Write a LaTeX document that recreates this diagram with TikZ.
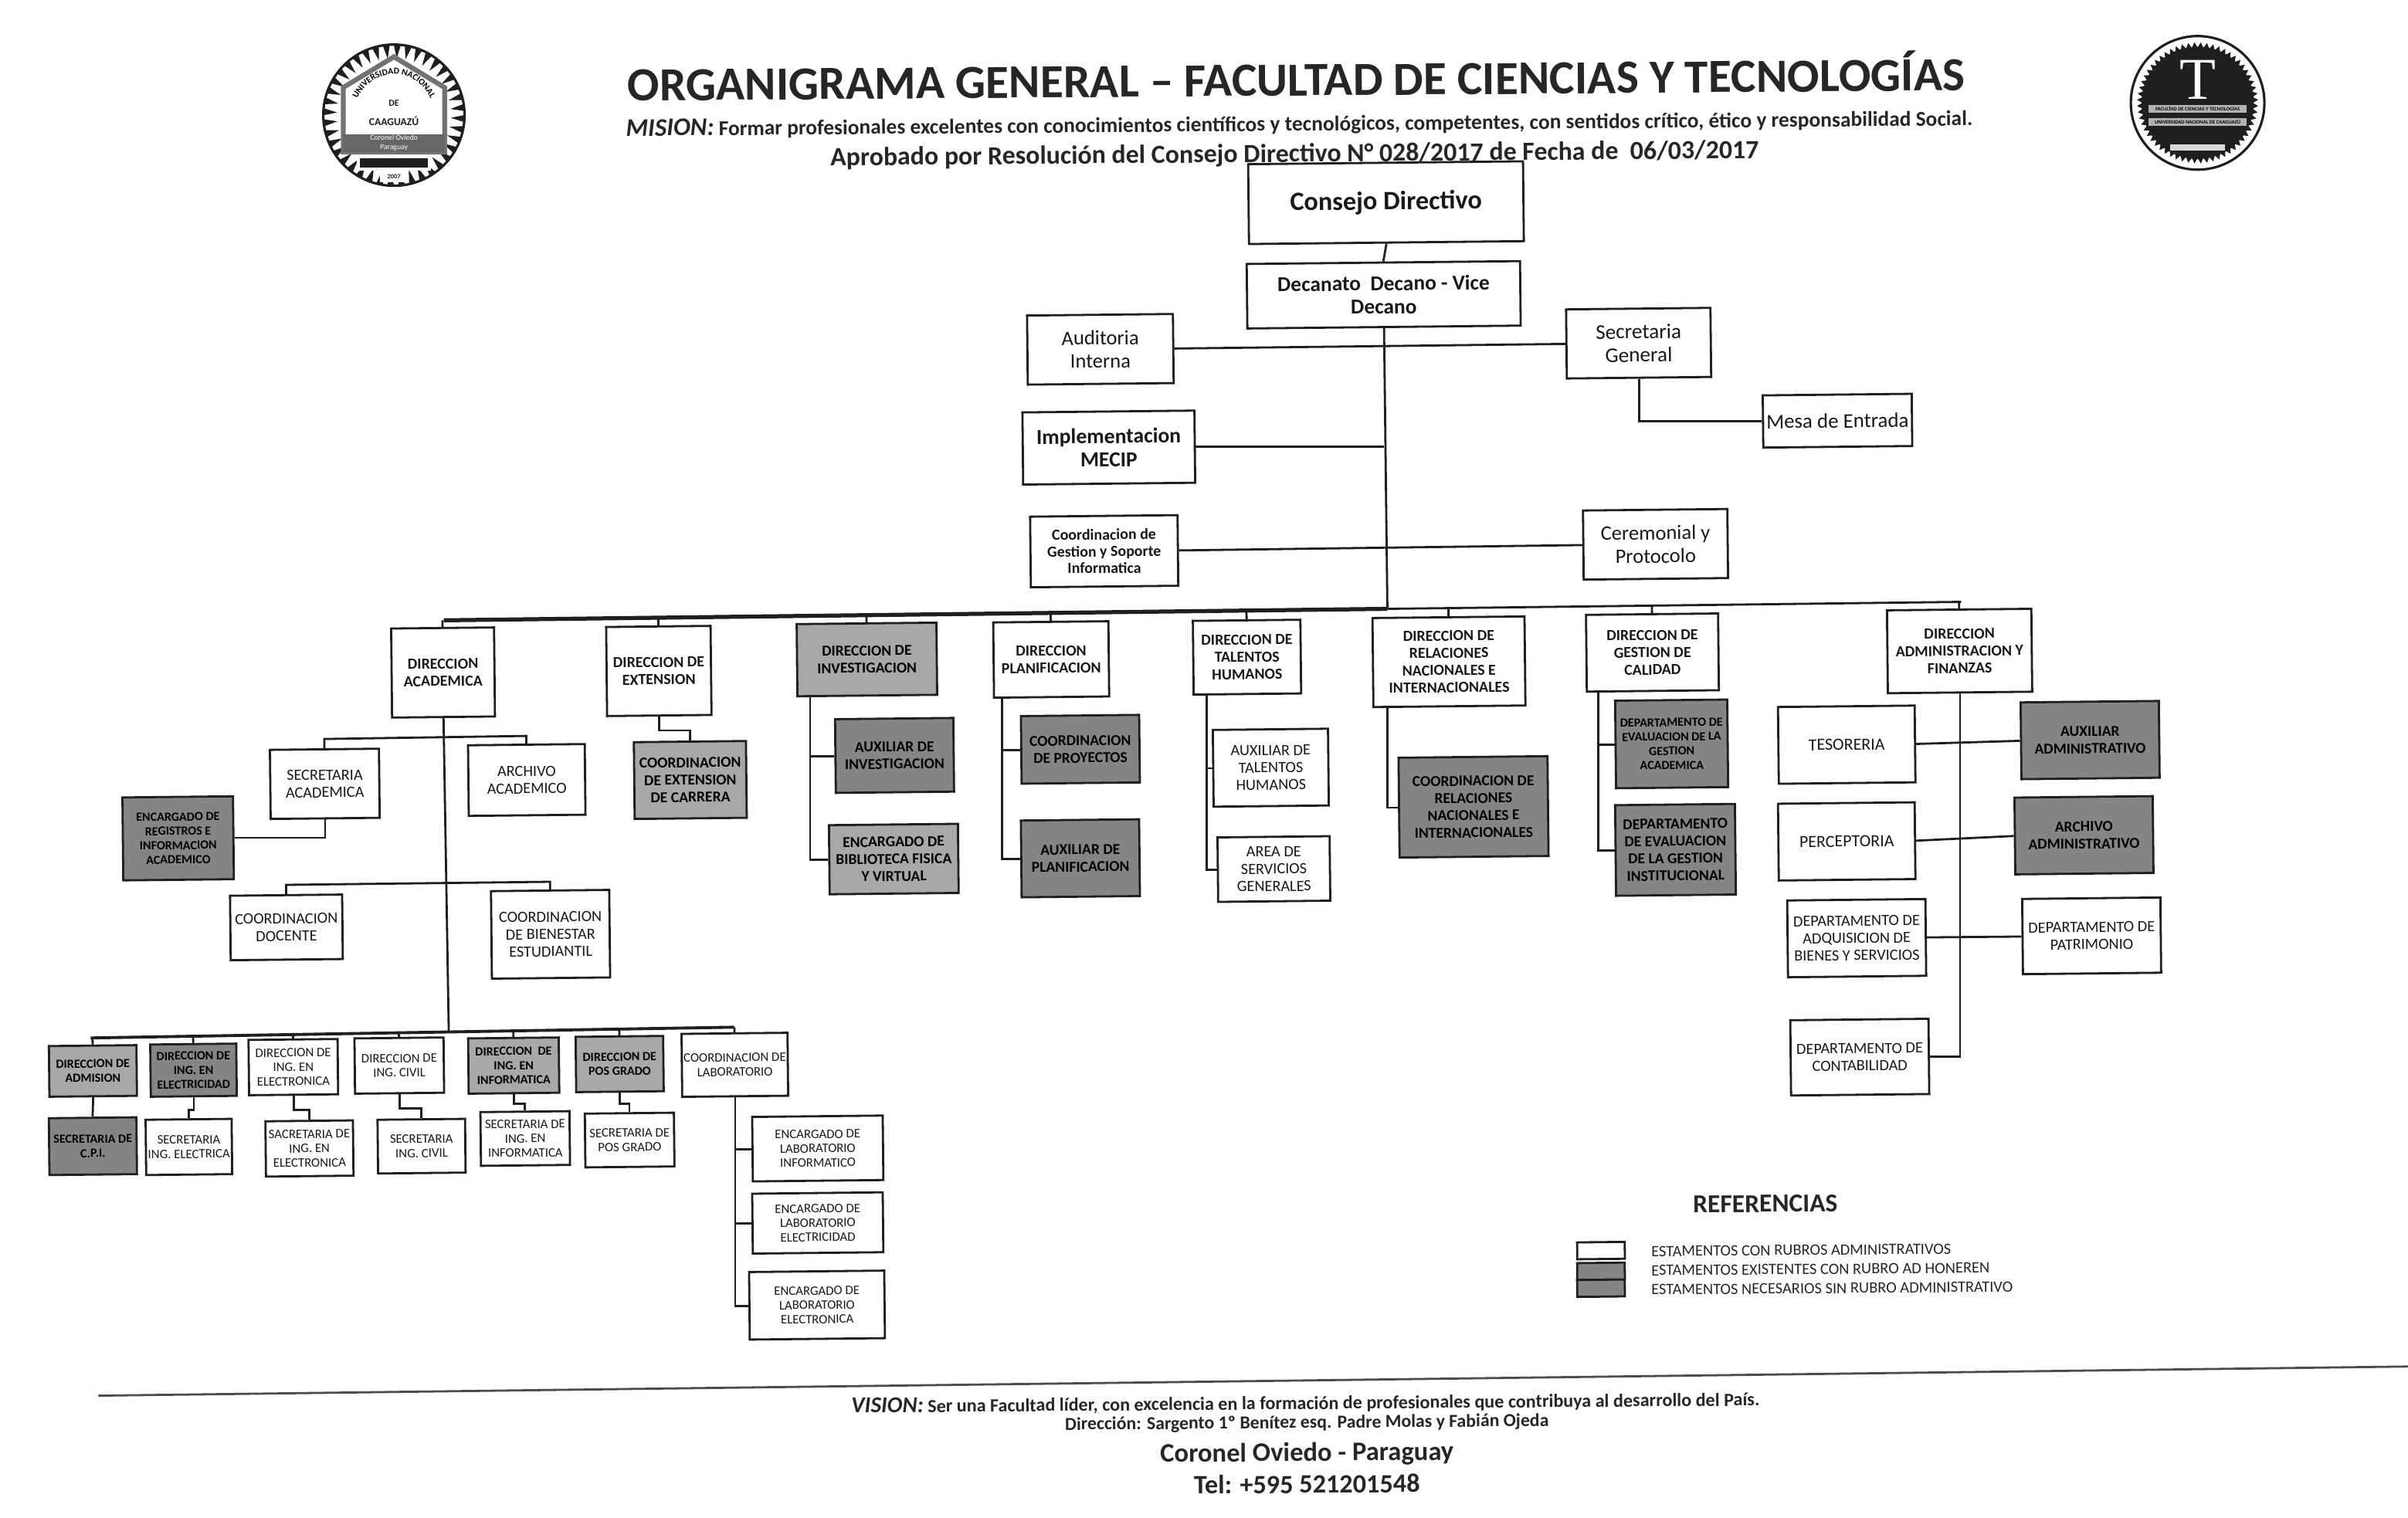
\documentclass[tikz,border=0pt]{standalone}
\usepackage{fontspec}
\setmainfont{Carlito}
\newfontfamily\sealfont{Liberation Serif}
\usetikzlibrary{calc}
\usetikzlibrary{decorations.text}
\definecolor{inkline}{gray}{0.12}
\definecolor{fillD}{gray}{0.52}
\definecolor{fillL}{gray}{0.66}
\def\Tilt{0.6}
\def\BoxFont{\fontsize{5.8pt}{6.4pt}\selectfont}
\def\SmallFont{\fontsize{4.8pt}{5.3pt}\selectfont}
\tikzset{
	wd/.style={minimum width=#1*0.2mm},
	ht/.style={minimum height=#1*0.2mm},
	orgbox/.style={draw=inkline,line width=0.8pt,fill=white,inner sep=0pt,align=center,rotate=\Tilt,text=black!90,font=\BoxFont},
	darkbox/.style={orgbox,fill=fillD,text=black,font=\fontsize{5.6pt}{6.4pt}\selectfont\bfseries},
	lightbox/.style={orgbox,fill=fillL,text=black,font=\fontsize{5.6pt}{6.4pt}\selectfont\bfseries},
	heavy/.style={font=\fontsize{5.7pt}{6.4pt}\selectfont\bfseries},
	tinytext/.style={font=\SmallFont},
	tinyheavy/.style={font=\fontsize{4.6pt}{5.3pt}\selectfont\bfseries},
	conn/.style={draw=inkline,line width=0.8pt},
	headtext/.style={text=black!85,inner sep=0pt,rotate=0.45},
}
\begin{document}
\begin{tikzpicture}[x=0.2mm,y=-0.2mm]
	\useasboundingbox (0,0) rectangle (1568,988.2);

	% heading
	\node[headtext,font=\fontsize{17.6pt}{19pt}\selectfont\bfseries] (title) at (844,49.5) {ORGANIGRAMA GENERAL -- FACULTAD DE CIENCIAS Y TECNOLOGÍAS};
	\node[headtext,font=\fontsize{7.85pt}{9pt}\selectfont\bfseries] (mision) at (846,81) {{\fontsize{9.4pt}{9pt}\selectfont\itshape MISION:} Formar profesionales excelentes con conocimientos científicos y tecnológicos, competentes, con sentidos crítico, ético y responsabilidad Social.};
	\node[headtext,font=\fontsize{9.7pt}{11pt}\selectfont\bfseries] (aprobado) at (843,101) {Aprobado por Resolución del Consejo Directivo N° 028/2017 de Fecha de\ \ 06/03/2017};

	% top of the chart
	\node[orgbox,wd=179,ht=52,font=\fontsize{9.8pt}{11pt}\selectfont\bfseries] (consejo) at (902.5,132) {Consejo Directivo};
	\node[orgbox,wd=178,ht=42,font=\fontsize{7.85pt}{8.6pt}\selectfont\bfseries] (decanato) at (901,192) {Decanato\ \ Decano - Vice\\Decano};
	\node[orgbox,wd=95,ht=45,font=\fontsize{7.6pt}{8.6pt}\selectfont] (auditoria) at (716.5,227.5) {Auditoria\\Interna};
	\node[orgbox,wd=94,ht=45,font=\fontsize{7.8pt}{8.6pt}\selectfont] (secgen) at (1067,223.5) {Secretaria\\General};
	\node[orgbox,wd=97,ht=34,font=\fontsize{7.7pt}{8.6pt}\selectfont] (mesa) at (1196.5,274) {Mesa de Entrada};
	\node[orgbox,wd=112,ht=47,font=\fontsize{7.9pt}{8.6pt}\selectfont\bfseries] (mecip) at (722,291.5) {Implementacion\\MECIP};
	\node[orgbox,wd=96,ht=46,font=\fontsize{5.7pt}{6.2pt}\selectfont\bfseries] (coordges) at (719,359) {Coordinacion de\\Gestion y Soporte\\Informatica};
	\node[orgbox,wd=94,ht=45,font=\fontsize{7.6pt}{8.6pt}\selectfont] (ceremonial) at (1078,354.5) {Ceremonial y\\Protocolo};

	% direcciones
	\node[orgbox,wd=67,ht=58,heavy] (dacad) at (288.5,438) {DIRECCION\\ACADEMICA};
	\node[orgbox,wd=68,ht=58,heavy] (dext) at (429,437) {DIRECCION DE\\EXTENSION};
	\node[lightbox,wd=91,ht=47] (dinv) at (564.5,429.5) {DIRECCION DE\\INVESTIGACION};
	\node[orgbox,wd=75,ht=49,heavy] (dplan) at (684.5,429.5) {DIRECCION\\PLANIFICACION};
	\node[orgbox,wd=70,ht=48,heavy] (dtal) at (812,428) {DIRECCION DE\\TALENTOS\\HUMANOS};
	\node[orgbox,wd=99,ht=58,heavy] (drel) at (943.5,431) {DIRECCION DE\\RELACIONES\\NACIONALES E\\INTERNACIONALES};
	\node[orgbox,wd=86,ht=50,heavy] (dcal) at (1076,425) {DIRECCION DE\\GESTION DE\\CALIDAD};
	\node[orgbox,wd=94,ht=54,heavy] (dadm) at (1276,424) {DIRECCION\\ADMINISTRACION Y\\FINANZAS};

	% academica
	\node[orgbox,wd=71,ht=45] (secac) at (211.5,510.5) {SECRETARIA\\ACADEMICA};
	\node[orgbox,wd=76,ht=46] (archac) at (343,508) {ARCHIVO\\ACADEMICO};
	\node[darkbox,wd=72,ht=54,tinyheavy] (encreg) at (116,546) {ENCARGADO DE\\REGISTROS E\\INFORMACION\\ACADEMICO};
	\node[orgbox,wd=73,ht=42] (coorddoc) at (186.5,604) {COORDINACION\\DOCENTE};
	\node[orgbox,wd=77,ht=57] (coordbien) at (358.5,608.5) {COORDINACION\\DE BIENESTAR\\ESTUDIANTIL};
	\node[lightbox,wd=57,ht=33,tinyheavy] (dadmis) at (60.5,697.5) {DIRECCION DE\\ADMISION};
	\node[darkbox,wd=56,ht=34,tinyheavy] (delec) at (126,697) {DIRECCION DE\\ING. EN\\ELECTRICIDAD};
	\node[orgbox,wd=58,ht=36,tinytext] (delectron) at (191,695) {DIRECCION DE\\ING. EN\\ELECTRONICA};
	\node[orgbox,wd=58,ht=36,tinytext] (dcivil) at (260,694) {DIRECCION DE\\ING. CIVIL};
	\node[lightbox,wd=59,ht=36,tinyheavy] (dinfo) at (334.5,694) {DIRECCION\ \ DE\\ING. EN\\INFORMATICA};
	\node[lightbox,wd=57,ht=36,tinyheavy] (dpos) at (403.5,693) {DIRECCION DE\\POS GRADO};
	\node[orgbox,wd=69,ht=41,tinytext] (coordlab) at (478.5,693.5) {COORDINACION DE\\LABORATORIO};
	\node[darkbox,wd=57,ht=37,tinyheavy] (seccpi) at (60.5,746.5) {SECRETARIA DE\\C.P.I.};
	\node[orgbox,wd=56,ht=36,tinytext] (secelec) at (123,747) {SECRETARIA\\ING. ELECTRICA};
	\node[orgbox,wd=57,ht=36,tinytext] (secelectron) at (201.5,748) {SACRETARIA DE\\ING. EN\\ELECTRONICA};
	\node[orgbox,wd=57,ht=35,tinytext] (seccivil) at (274.5,746.5) {SECRETARIA\\ING. CIVIL};
	\node[orgbox,wd=58,ht=35,tinytext] (secinfo) at (342,741.5) {SECRETARIA DE\\ING. EN\\INFORMATICA};
	\node[orgbox,wd=58,ht=35,tinytext] (secpos) at (410,742.5) {SECRETARIA DE\\POS GRADO};
	\node[orgbox,wd=85,ht=42,tinytext] (enclabinf) at (532.5,748) {ENCARGADO DE\\LABORATORIO\\INFORMATICO};
	\node[orgbox,wd=85,ht=39,tinytext] (enclabelec) at (532.5,796.5) {ENCARGADO DE\\LABORATORIO\\ELECTRICIDAD};
	\node[orgbox,wd=88,ht=44,tinytext] (enclabeln) at (532,850) {ENCARGADO DE\\LABORATORIO\\ELECTRONICA};

	% extension, investigacion, planificacion
	\node[lightbox,wd=73,ht=50] (coordext) at (449.5,508) {COORDINACION\\DE EXTENSION\\DE CARRERA};
	\node[darkbox,wd=77,ht=48] (auxinv) at (582.5,492) {AUXILIAR DE\\INVESTIGACION};
	\node[lightbox,wd=84,ht=45] (encbib) at (582,559.5) {ENCARGADO DE\\BIBLIOTECA FISICA\\Y VIRTUAL};
	\node[darkbox,wd=77,ht=44] (coordpro) at (703.5,488) {COORDINACION\\DE PROYECTOS};
	\node[darkbox,wd=77,ht=50] (auxplan) at (703.5,559) {AUXILIAR DE\\PLANIFICACION};

	% talentos, relaciones, calidad
	\node[orgbox,wd=75,ht=50] (auxtal) at (827.5,500) {AUXILIAR DE\\TALENTOS\\HUMANOS};
	\node[orgbox,wd=73,ht=42] (areaserv) at (829.5,566) {AREA DE\\SERVICIOS\\GENERALES};
	\node[darkbox,wd=97,ht=65] (coordrel) at (959.5,525.5) {COORDINACION DE\\RELACIONES\\NACIONALES E\\INTERNACIONALES};
	\node[darkbox,wd=73,ht=57,tinyheavy] (depevac) at (1088.5,484.5) {DEPARTAMENTO DE\\EVALUACION DE LA\\GESTION\\ACADEMICA};
	\node[darkbox,wd=78,ht=59] (depevin) at (1091,553.5) {DEPARTAMENTO\\DE EVALUACION\\DE LA GESTION\\INSTITUCIONAL};

	% administracion y finanzas
	\node[orgbox,wd=89,ht=50,font=\fontsize{6.3pt}{7pt}\selectfont] (tesoreria) at (1202.5,485) {TESORERIA};
	\node[darkbox,wd=90,ht=50] (auxadm) at (1361,482) {AUXILIAR\\ADMINISTRATIVO};
	\node[orgbox,wd=89,ht=50,font=\fontsize{6.3pt}{7pt}\selectfont] (percep) at (1202.5,548) {PERCEPTORIA};
	\node[darkbox,wd=90,ht=50] (archadm) at (1357,544) {ARCHIVO\\ADMINISTRATIVO};
	\node[orgbox,wd=90,ht=50] (depadq) at (1209,611) {DEPARTAMENTO DE\\ADQUISICION DE\\BIENES Y SERVICIOS};
	\node[orgbox,wd=90,ht=49] (deppat) at (1362,609.5) {DEPARTAMENTO DE\\PATRIMONIO};
	\node[orgbox,wd=90,ht=49] (depcont) at (1211,688.5) {DEPARTAMENTO DE\\CONTABILIDAD};

	% upper connectors
	\draw[conn] (consejo.south) -- (decanato.north);
	\coordinate (busa) at (289,404);
	\coordinate (busb) at (1277,392);
	\draw[conn] (decanato.south) -- ($(busa)!(decanato.south)!(busb)$) coordinate (busmid);
	\draw[conn] (auditoria.east) -- (secgen.west);
	\draw[conn] (secgen.south) |- (mesa.west);
	\draw[conn] (mecip.east) -- (mecip.east -| decanato.south);
	\draw[conn] (coordges.east) -- (ceremonial.west);
	\draw[conn,line width=1.5pt] (busa) -- (busmid);
	\draw[conn] (busmid) -- (busb);
	\foreach \n in {dacad,dext,dinv,dplan,dtal,drel,dcal,dadm}{
		\draw[conn] (\n.north) -- ($(busa)!(\n.north)!(busb)$);
	}

	% academica connectors
	\coordinate (busc) at (59,676);
	\coordinate (busd) at (478,669);
	\draw[conn] (dacad.south) -- ($(busc)!(dacad.south)!(busd)$);
	\draw[conn,line width=1.1pt] (busc) -- (busd);
	\draw[conn] (secac.north) -- ++(0,-6) -- ($(archac.north)+(0,-5)$) -- (archac.north);
	\draw[conn] (secac.south) |- (encreg.east);
	\draw[conn] (coorddoc.north) -- ++(0,-6) -- ($(coordbien.north)+(0,-5)$) -- (coordbien.north);
	\foreach \n in {dadmis,delec,delectron,dcivil,dinfo,dpos,coordlab}{
		\draw[conn] (\n.north) -- ($(busc)!(\n.north)!(busd)$);
	}
	\draw[conn] (dadmis.south) -- (seccpi.north);
	\draw[conn] (delec.south) -- ++(0,8) -| (secelec.north);
	\draw[conn] (delectron.south) -- ++(0,9) -| (secelectron.north);
	\draw[conn] (dcivil.south) -- ++(0,9) -| (seccivil.north);
	\draw[conn] (dinfo.south) -- ++(0,6) -| (secinfo.north);
	\draw[conn] (dpos.south) -- ++(0,7) -| (secpos.north);
	\draw[conn] (coordlab.south) |- (enclabeln.west);
	\foreach \n in {enclabinf,enclabelec}{
		\draw[conn] (\n.west) -- (\n.west -| coordlab.south);
	}

	% spines of the other direcciones
	\draw[conn] (dext.south) -- ++(0,9) -| (coordext.north);
	\draw[conn] ($(dinv.south west)+(9,0)$) coordinate (invs) |- (encbib.west);
	\draw[conn] (auxinv.west) -- (auxinv.west -| invs);
	\draw[conn] ($(dplan.south west)+(6,0)$) coordinate (plans) |- (auxplan.west);
	\draw[conn] (coordpro.west) -- (coordpro.west -| plans);
	\draw[conn] ($(dtal.south west)+(9,0)$) coordinate (tals) |- (areaserv.west);
	\draw[conn] (auxtal.west) -- (auxtal.west -| tals);
	\draw[conn] ($(drel.south west)+(10,0)$) |- (coordrel.west);
	\draw[conn] ($(dcal.south west)+(8,0)$) coordinate (cals) |- (depevin.west);
	\draw[conn] (depevac.west) -- (depevac.west -| cals);
	\draw[conn] (dadm.south) |- (depcont.east);
	\draw[conn] (tesoreria.east) -- (auxadm.west);
	\draw[conn] (percep.east) -- (archadm.west);
	\draw[conn] (depadq.east) -- (deppat.west);

	% left seal
	\begin{scope}[shift={(256.5,75)}]
		\draw[inkline,line width=0.9pt] (0,0) circle (46);
		\foreach \a in {0,9,...,351}{
			\fill[inkline] (\a:45.5) -- (\a+5.5:45.5) -- (\a+2.75:37) -- cycle;
		}
		\draw[black!55,line width=1.8pt,fill=white,line join=miter] (0,-38) -- (33,-18) -- (33,24) -- (-33,24) -- (-33,-18) -- cycle;
		\fill[black!60] (-33,12.5) rectangle (33,24);
		\fill[white] (-24,26) rectangle (24,36);
		\fill[inkline] (-22,28) rectangle (22,34);
		\fill[white] (-9,36.5) rectangle (9,43.5);
		\path[decorate,decoration={text along path,text align=center,text={|\fontsize{3.3pt}{4pt}\selectfont\bfseries|UNIVERSIDAD NACIONAL}}] (-27,-2) .. controls (-19,-35) and (19,-35) .. (27,-2);
		\node[font=\fontsize{3.4pt}{4pt}\selectfont\bfseries,text=inkline,inner sep=0pt] (lde) at (0,-8) {DE};
		\node[font=\fontsize{3.9pt}{4pt}\selectfont\bfseries,text=inkline,inner sep=0pt] (lcaa) at (0,4) {CAAGUAZÚ};
		\node[font=\fontsize{2.8pt}{3.4pt}\selectfont,text=white,inner sep=0pt,align=center] (lcor) at (0,18) {Coronel Oviedo\\Paraguay};
		\node[font=\fontsize{2.4pt}{3pt}\selectfont\bfseries,text=inkline,inner sep=0pt] (lyear) at (0,40) {2007};
	\end{scope}

	% right seal
	\begin{scope}[shift={(1431,67)}]
		\draw[inkline,line width=0.9pt] (0,0) circle (43.5);
		\fill[inkline] (0,0) circle (36.5);
		\foreach \a in {0,6,...,354}{
			\fill[inkline] (\a:36) -- (\a+6:36) -- (\a+3:39.5) -- cycle;
		}
		\node[font=\fontsize{22pt}{23pt}\sealfont,text=white,inner sep=0pt] (rt) at (0,-15) {T};
		\fill[black!30] (-32,1.5) rectangle (32,6.5);
		\fill[black!30] (-32,10) rectangle (32,15);
		\fill[black!15] (-18,27) rectangle (18,31);
		\node[font=\fontsize{1.9pt}{2pt}\selectfont\bfseries,text=black,inner sep=0pt] (rfac) at (0,4) {FACULTAD DE CIENCIAS Y TECNOLOGÍAS};
		\node[font=\fontsize{1.9pt}{2pt}\selectfont\bfseries,text=black,inner sep=0pt] (runi) at (0,12.5) {UNIVERSIDAD NACIONAL DE CAAGUAZÚ};
	\end{scope}

	% legend
	\node[headtext,font=\fontsize{9.6pt}{11pt}\selectfont\bfseries] (refer) at (1149.5,784) {REFERENCIAS};
	\node[orgbox,wd=31,ht=11] (lega) at (1042.5,814.5) {};
	\node[darkbox,wd=31,ht=11] (legb) at (1042.5,828) {};
	\node[darkbox,wd=31,ht=11] (legc) at (1042.5,839) {};
	\node[headtext,anchor=west,font=\fontsize{5.85pt}{6pt}\selectfont] (lega text) at (1075,815) {ESTAMENTOS CON RUBROS ADMINISTRATIVOS};
	\node[headtext,anchor=west,font=\fontsize{5.85pt}{6pt}\selectfont] (legb text) at (1075,827.5) {ESTAMENTOS EXISTENTES CON RUBRO AD HONEREN};
	\node[headtext,anchor=west,font=\fontsize{5.85pt}{6pt}\selectfont] (legc text) at (1075,840) {ESTAMENTOS NECESARIOS SIN RUBRO ADMINISTRATIVO};

	% footer
	\coordinate (rulea) at (64,909);
	\coordinate (ruleb) at (1568,890);
	\draw[conn,draw=black!70] (rulea) -- (ruleb);
	\node[headtext,font=\fontsize{6.9pt}{8pt}\selectfont\bfseries] (vision) at (850,914) {{\fontsize{8.4pt}{8pt}\selectfont\itshape VISION:} Ser una Facultad líder, con excelencia en la formación de profesionales que contribuya al desarrollo del País.};
	\node[headtext,font=\fontsize{6.8pt}{8pt}\selectfont\bfseries] (direc) at (851,927) {Dirección: Sargento 1º Benítez esq. Padre Molas y Fabián Ojeda};
	\node[headtext,font=\fontsize{9.9pt}{11pt}\selectfont\bfseries] (coronel) at (851,947) {Coronel Oviedo - Paraguay};
	\node[headtext,font=\fontsize{9.8pt}{11pt}\selectfont\bfseries] (tel) at (851,966.5) {Tel: +595 521201548};
\end{tikzpicture}
\end{document}
